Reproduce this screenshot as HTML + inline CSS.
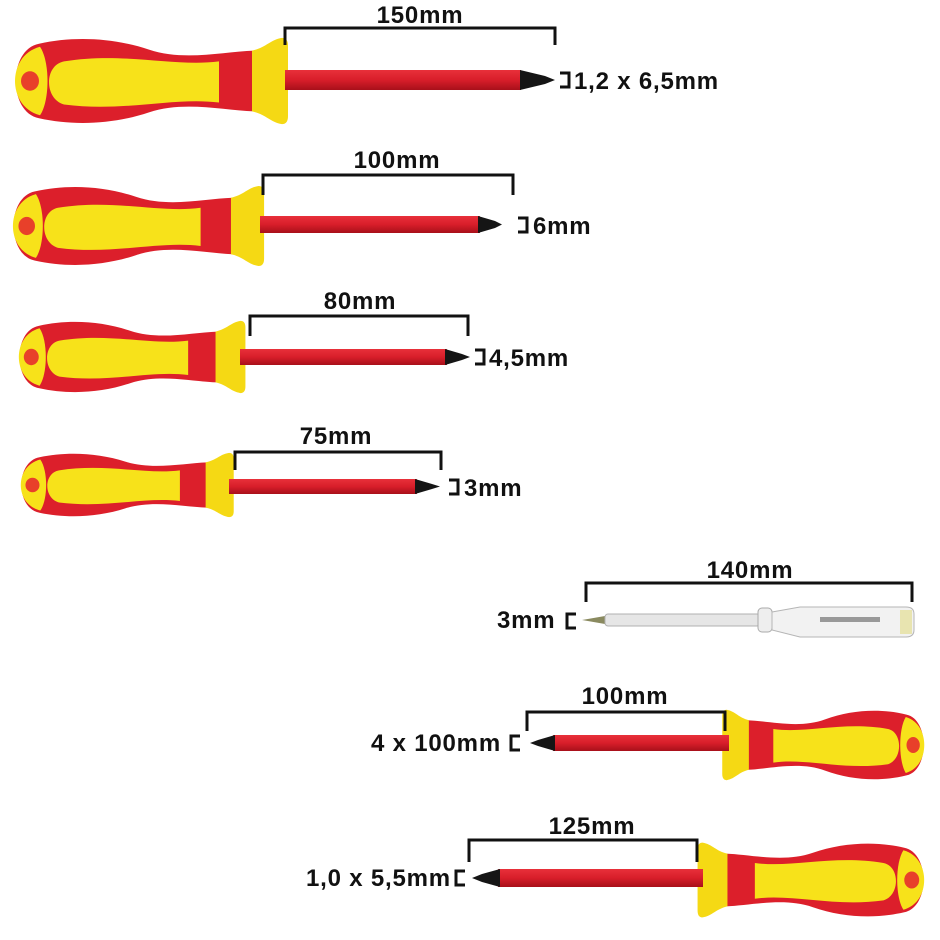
<!DOCTYPE html>
<html><head><meta charset="utf-8"><style>
html,body{margin:0;padding:0;background:#fff;width:940px;height:940px;overflow:hidden}
text{font-family:"Liberation Sans",sans-serif;font-weight:bold;font-size:24px;letter-spacing:0.8px;fill:#111}
</style></head><body>
<svg width="940" height="940" viewBox="0 0 940 940" xmlns="http://www.w3.org/2000/svg">
<defs>
<linearGradient id="sh" x1="0" y1="0" x2="0" y2="1">
<stop offset="0" stop-color="#e8303a"/><stop offset="0.5" stop-color="#d81e2a"/><stop offset="1" stop-color="#a8101a"/></linearGradient>
<g id="h">
<path d="M25,-38 C60,-46 100,-44 135,-32 C170,-20 210,-30 240,-31 L240,31 C210,30 170,20 135,32 C100,44 60,46 25,38 C-6,32 -6,-32 25,-38 Z" fill="#dc1f2b"/>
<path d="M26,-35 C8,-30 1,-14 1,0 C1,14 8,30 26,35 C36,20 36,-20 26,-35 Z" fill="#f7e21a"/>
<ellipse cx="16" cy="0" rx="9" ry="10" fill="#e8402a"/>
<path d="M50,-20 C110,-30 160,-14 205,-20 L205,22 C160,16 110,32 50,24 C30,18 30,-16 50,-20 Z" fill="#f7e21a"/>
<path d="M238,-31 C252,-34 256,-42 268,-44 Q274,-44 274,-36 L274,36 Q274,44 268,44 C256,42 252,34 238,31 Z" fill="#f5d914"/>
</g>
</defs>

<!-- row 1 -->
<use href="#h" transform="translate(14,81) scale(1.0,0.98)"/>
<rect x="285" y="70" width="236" height="20" fill="url(#sh)"/>
<polygon points="520,70 545,76 555,80 545,84 520,90" fill="#151515"/>
<path d="M285,45 V28 H555 V45" fill="none" stroke="#111" stroke-width="3"/>
<text x="420" y="23" text-anchor="middle">150mm</text>
<path d="M560,73 H569 V87 H560" fill="none" stroke="#111" stroke-width="3"/>
<text x="574" y="89">1,2 x 6,5mm</text>

<!-- row 2 -->
<use href="#h" transform="translate(12,226) scale(0.92,0.91)"/>
<rect x="260" y="216" width="220" height="17" fill="url(#sh)"/>
<polygon points="478,216 495,221 502,224.5 495,228 478,233" fill="#151515"/>
<path d="M263,195 V175 H513 V195" fill="none" stroke="#111" stroke-width="3"/>
<text x="397" y="168" text-anchor="middle">100mm</text>
<path d="M518,218 H527 V232 H518" fill="none" stroke="#111" stroke-width="3"/>
<text x="533" y="234">6mm</text>

<!-- row 3 -->
<use href="#h" transform="translate(18,357) scale(0.83,0.82)"/>
<rect x="240" y="349" width="207" height="16" fill="url(#sh)"/>
<polygon points="445,349 462,354 470,357 462,360 445,365" fill="#151515"/>
<path d="M250,336 V316 H468 V336" fill="none" stroke="#111" stroke-width="3"/>
<text x="360" y="309" text-anchor="middle">80mm</text>
<path d="M475,350 H484 V364 H475" fill="none" stroke="#111" stroke-width="3"/>
<text x="489" y="366">4,5mm</text>

<!-- row 4 -->
<use href="#h" transform="translate(20,485) scale(0.78,0.73)"/>
<rect x="229" y="479" width="188" height="15" fill="url(#sh)"/>
<polygon points="415,479 432,484 440,486.5 432,489 415,494" fill="#151515"/>
<path d="M235,470 V452 H441 V470" fill="none" stroke="#111" stroke-width="3"/>
<text x="336" y="444" text-anchor="middle">75mm</text>
<path d="M449,480 H458 V494 H449" fill="none" stroke="#111" stroke-width="3"/>
<text x="464" y="496">3mm</text>

<!-- tester -->
<path d="M586,602 V583 H912 V602" fill="none" stroke="#111" stroke-width="3"/>
<text x="750" y="578" text-anchor="middle">140mm</text>
<text x="497" y="628">3mm</text>
<path d="M576,614 H567 V628 H576" fill="none" stroke="#111" stroke-width="3"/>
<polygon points="582,620 605,616 605,624" fill="#8a8a60"/>
<rect x="605" y="614" width="155" height="12" rx="3" fill="#e6e6e6" stroke="#b0b0b0"/>
<rect x="758" y="608" width="14" height="24" rx="4" fill="#eee" stroke="#aaa"/>
<path d="M772,612 L800,607 H906 Q914,607 914,614 V630 Q914,637 906,637 H800 L772,630 Z" fill="#f2f2f2" stroke="#b5b5b5"/>
<rect x="820" y="617" width="60" height="5" fill="#999"/>
<rect x="900" y="610" width="12" height="24" fill="#e8e4b0"/>

<!-- row 6 -->
<use href="#h" transform="translate(925,745) scale(-0.74,0.8)"/>
<rect x="553" y="735" width="176" height="16" fill="url(#sh)"/>
<polygon points="555,735 538,740 530,743 538,746 555,751" fill="#151515"/>
<path d="M527,731 V712 H725 V731" fill="none" stroke="#111" stroke-width="3"/>
<text x="625" y="704" text-anchor="middle">100mm</text>
<text x="371" y="751">4 x 100mm</text>
<path d="M520,736 H511 V750 H520" fill="none" stroke="#111" stroke-width="3"/>

<!-- row 7 -->
<use href="#h" transform="translate(925,880) scale(-0.83,0.85)"/>
<rect x="498" y="869" width="205" height="18" fill="url(#sh)"/>
<polygon points="500,869 482,874 472,878 482,882 500,887" fill="#151515"/>
<path d="M469,862 V840 H697 V862" fill="none" stroke="#111" stroke-width="3"/>
<text x="592" y="834" text-anchor="middle">125mm</text>
<text x="306" y="886">1,0 x 5,5mm</text>
<path d="M465,871 H456 V885 H465" fill="none" stroke="#111" stroke-width="3"/>
</svg>
</body></html>
